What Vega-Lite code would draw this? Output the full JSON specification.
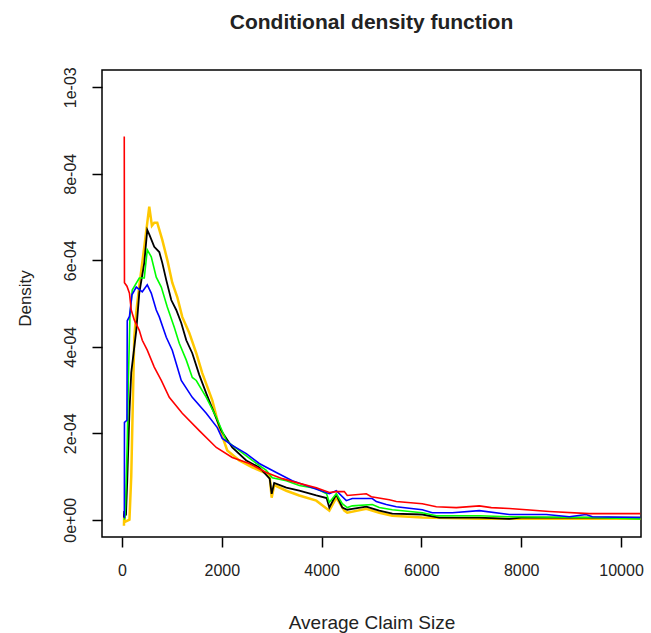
{
  "$schema": "https://vega.github.io/schema/vega-lite/v6.json",
  "width": 539,
  "height": 467,
  "autosize": {"type": "none"},
  "padding": {"left": 102, "top": 70, "right": 10, "bottom": 96},
  "title": {"text": "Conditional density function", "font": "Liberation Sans", "fontSize": 21, "fontWeight": "bold", "color": "#222", "anchor": "middle", "frame": "group", "baseline": "alphabetic", "offset": 17},
  "config": {
    "view": {"stroke": "#000", "strokeWidth": 1.5},
    "axis": {"grid": false, "domain": false, "tickColor": "#000", "tickWidth": 1.5, "tickSize": 10, "labelFont": "Liberation Sans", "labelFontSize": 16, "labelColor": "#222", "titleFont": "Liberation Sans", "titleFontSize": 17, "titleFontWeight": "normal", "titleColor": "#222", "labelFlush": false}
  },
  "data": {"values": [
    {"s":"red","x":46,"y":8.86e-4},{"s":"red","x":50,"y":5.48e-4},{"s":"red","x":100,"y":5.40e-4},{"s":"red","x":150,"y":5.24e-4},{"s":"red","x":186,"y":4.85e-4},{"s":"red","x":246,"y":4.62e-4},{"s":"red","x":347,"y":4.38e-4},{"s":"red","x":407,"y":4.15e-4},{"s":"red","x":507,"y":3.92e-4},{"s":"red","x":647,"y":3.53e-4},{"s":"red","x":788,"y":3.22e-4},{"s":"red","x":948,"y":2.83e-4},{"s":"red","x":1208,"y":2.46e-4},{"s":"red","x":1549,"y":2.06e-4},{"s":"red","x":1890,"y":1.67e-4},{"s":"red","x":2210,"y":1.44e-4},{"s":"red","x":2551,"y":1.30e-4},{"s":"red","x":2892,"y":1.09e-4},{"s":"red","x":3212,"y":9.5e-5},{"s":"red","x":3553,"y":8.4e-5},{"s":"red","x":3894,"y":7.4e-5},{"s":"red","x":4155,"y":6.3e-5},{"s":"red","x":4295,"y":6.5e-5},{"s":"red","x":4455,"y":6.5e-5},{"s":"red","x":4515,"y":5.6e-5},{"s":"red","x":4896,"y":6.0e-5},{"s":"red","x":4996,"y":5.3e-5},{"s":"red","x":5357,"y":4.6e-5},{"s":"red","x":5497,"y":4.2e-5},{"s":"red","x":6018,"y":3.7e-5},{"s":"red","x":6299,"y":3.0e-5},{"s":"red","x":6699,"y":2.8e-5},{"s":"red","x":7160,"y":3.2e-5},{"s":"red","x":7400,"y":2.8e-5},{"s":"red","x":7761,"y":2.6e-5},{"s":"red","x":8563,"y":1.9e-5},{"s":"red","x":9364,"y":1.4e-5},{"s":"red","x":10386,"y":1.4e-5},

    {"s":"blue","x":40,"y":5e-6},{"s":"blue","x":48,"y":5e-6},{"s":"blue","x":50,"y":2.25e-4},{"s":"blue","x":100,"y":2.30e-4},{"s":"blue","x":106,"y":4.60e-4},{"s":"blue","x":150,"y":4.70e-4},{"s":"blue","x":200,"y":5.20e-4},{"s":"blue","x":287,"y":5.38e-4},{"s":"blue","x":407,"y":5.27e-4},{"s":"blue","x":507,"y":5.43e-4},{"s":"blue","x":587,"y":5.24e-4},{"s":"blue","x":687,"y":4.85e-4},{"s":"blue","x":748,"y":4.69e-4},{"s":"blue","x":888,"y":4.22e-4},{"s":"blue","x":1008,"y":3.92e-4},{"s":"blue","x":1108,"y":3.53e-4},{"s":"blue","x":1188,"y":3.22e-4},{"s":"blue","x":1409,"y":2.83e-4},{"s":"blue","x":1689,"y":2.46e-4},{"s":"blue","x":1910,"y":2.13e-4},{"s":"blue","x":2010,"y":1.88e-4},{"s":"blue","x":2210,"y":1.72e-4},{"s":"blue","x":2491,"y":1.53e-4},{"s":"blue","x":2751,"y":1.30e-4},{"s":"blue","x":3092,"y":1.09e-4},{"s":"blue","x":3413,"y":9.0e-5},{"s":"blue","x":3814,"y":7.4e-5},{"s":"blue","x":4155,"y":6.0e-5},{"s":"blue","x":4295,"y":6.7e-5},{"s":"blue","x":4495,"y":4.4e-5},{"s":"blue","x":4615,"y":4.9e-5},{"s":"blue","x":5016,"y":4.9e-5},{"s":"blue","x":5096,"y":4.2e-5},{"s":"blue","x":5296,"y":3.5e-5},{"s":"blue","x":5497,"y":3.0e-5},{"s":"blue","x":6018,"y":2.3e-5},{"s":"blue","x":6218,"y":1.6e-5},{"s":"blue","x":6619,"y":1.6e-5},{"s":"blue","x":7160,"y":2.1e-5},{"s":"blue","x":7761,"y":1.2e-5},{"s":"blue","x":8503,"y":1.2e-5},{"s":"blue","x":8964,"y":7e-6},{"s":"blue","x":9300,"y":1.2e-5},{"s":"blue","x":9424,"y":7e-6},{"s":"blue","x":10386,"y":5e-6},

    {"s":"green","x":40,"y":0},{"s":"green","x":60,"y":5e-6},{"s":"green","x":70,"y":3.0e-5},{"s":"green","x":106,"y":1.80e-4},{"s":"green","x":130,"y":3.30e-4},{"s":"green","x":160,"y":4.70e-4},{"s":"green","x":206,"y":5.31e-4},{"s":"green","x":347,"y":5.59e-4},{"s":"green","x":447,"y":5.59e-4},{"s":"green","x":507,"y":6.24e-4},{"s":"green","x":587,"y":6.08e-4},{"s":"green","x":687,"y":5.61e-4},{"s":"green","x":788,"y":5.38e-4},{"s":"green","x":908,"y":4.92e-4},{"s":"green","x":1048,"y":4.45e-4},{"s":"green","x":1148,"y":4.08e-4},{"s":"green","x":1289,"y":3.69e-4},{"s":"green","x":1409,"y":3.29e-4},{"s":"green","x":1489,"y":3.22e-4},{"s":"green","x":1689,"y":2.83e-4},{"s":"green","x":1890,"y":2.37e-4},{"s":"green","x":2090,"y":1.83e-4},{"s":"green","x":2351,"y":1.60e-4},{"s":"green","x":2611,"y":1.37e-4},{"s":"green","x":2892,"y":1.14e-4},{"s":"green","x":3012,"y":9.7e-5},{"s":"green","x":3293,"y":9.0e-5},{"s":"green","x":3553,"y":7.9e-5},{"s":"green","x":3894,"y":7.2e-5},{"s":"green","x":4100,"y":6.0e-5},{"s":"green","x":4155,"y":4.0e-5},{"s":"green","x":4295,"y":6.0e-5},{"s":"green","x":4415,"y":3.7e-5},{"s":"green","x":4515,"y":2.8e-5},{"s":"green","x":4615,"y":3.2e-5},{"s":"green","x":5016,"y":3.5e-5},{"s":"green","x":5156,"y":2.8e-5},{"s":"green","x":5417,"y":2.3e-5},{"s":"green","x":6018,"y":1.6e-5},{"s":"green","x":6299,"y":9e-6},{"s":"green","x":7160,"y":9e-6},{"s":"green","x":7761,"y":7e-6},{"s":"green","x":9424,"y":5e-6},{"s":"green","x":10386,"y":2e-6},

    {"s":"black","x":40,"y":5e-6},{"s":"black","x":46,"y":2.0e-5},{"s":"black","x":80,"y":1.0e-5},{"s":"black","x":106,"y":9.0e-5},{"s":"black","x":150,"y":2.50e-4},{"s":"black","x":186,"y":3.40e-4},{"s":"black","x":287,"y":4.38e-4},{"s":"black","x":347,"y":5.24e-4},{"s":"black","x":447,"y":5.94e-4},{"s":"black","x":507,"y":6.70e-4},{"s":"black","x":547,"y":6.60e-4},{"s":"black","x":647,"y":6.31e-4},{"s":"black","x":748,"y":6.19e-4},{"s":"black","x":808,"y":5.94e-4},{"s":"black","x":888,"y":5.54e-4},{"s":"black","x":988,"y":5.08e-4},{"s":"black","x":1088,"y":4.85e-4},{"s":"black","x":1188,"y":4.55e-4},{"s":"black","x":1289,"y":4.15e-4},{"s":"black","x":1409,"y":3.85e-4},{"s":"black","x":1549,"y":3.35e-4},{"s":"black","x":1689,"y":2.92e-4},{"s":"black","x":1850,"y":2.46e-4},{"s":"black","x":1990,"y":2.06e-4},{"s":"black","x":2210,"y":1.67e-4},{"s":"black","x":2491,"y":1.37e-4},{"s":"black","x":2751,"y":1.21e-4},{"s":"black","x":2960,"y":9.5e-5},{"s":"black","x":3000,"y":6.0e-5},{"s":"black","x":3050,"y":8.5e-5},{"s":"black","x":3293,"y":7.4e-5},{"s":"black","x":3553,"y":6.7e-5},{"s":"black","x":3894,"y":5.6e-5},{"s":"black","x":4100,"y":5.0e-5},{"s":"black","x":4155,"y":2.8e-5},{"s":"black","x":4230,"y":4.5e-5},{"s":"black","x":4295,"y":5.8e-5},{"s":"black","x":4415,"y":2.8e-5},{"s":"black","x":4515,"y":2.3e-5},{"s":"black","x":4615,"y":2.5e-5},{"s":"black","x":4896,"y":3.0e-5},{"s":"black","x":5156,"y":2.1e-5},{"s":"black","x":5417,"y":1.4e-5},{"s":"black","x":6018,"y":1.2e-5},{"s":"black","x":6359,"y":5e-6},{"s":"black","x":7160,"y":5e-6},{"s":"black","x":7761,"y":2e-6},{"s":"black","x":8000,"y":5e-6},{"s":"black","x":9424,"y":5e-6},{"s":"black","x":10386,"y":5e-6},

    {"s":"gold","x":40,"y":-1.4e-5},{"s":"gold","x":46,"y":1.4e-5},{"s":"gold","x":60,"y":-5e-6},{"s":"gold","x":150,"y":0},{"s":"gold","x":186,"y":1.00e-4},{"s":"gold","x":246,"y":4.20e-4},{"s":"gold","x":287,"y":4.80e-4},{"s":"gold","x":347,"y":5.40e-4},{"s":"gold","x":447,"y":6.31e-4},{"s":"gold","x":547,"y":7.24e-4},{"s":"gold","x":600,"y":6.80e-4},{"s":"gold","x":647,"y":6.87e-4},{"s":"gold","x":707,"y":6.87e-4},{"s":"gold","x":808,"y":6.47e-4},{"s":"gold","x":908,"y":6.01e-4},{"s":"gold","x":1008,"y":5.48e-4},{"s":"gold","x":1108,"y":5.15e-4},{"s":"gold","x":1208,"y":4.69e-4},{"s":"gold","x":1349,"y":4.32e-4},{"s":"gold","x":1489,"y":3.85e-4},{"s":"gold","x":1609,"y":3.39e-4},{"s":"gold","x":1810,"y":2.76e-4},{"s":"gold","x":1950,"y":2.13e-4},{"s":"gold","x":2110,"y":1.60e-4},{"s":"gold","x":2351,"y":1.37e-4},{"s":"gold","x":2611,"y":1.21e-4},{"s":"gold","x":2892,"y":1.07e-4},{"s":"gold","x":2960,"y":1.00e-4},{"s":"gold","x":3000,"y":5.1e-5},{"s":"gold","x":3050,"y":8.0e-5},{"s":"gold","x":3293,"y":6.7e-5},{"s":"gold","x":3553,"y":5.6e-5},{"s":"gold","x":3894,"y":4.4e-5},{"s":"gold","x":4155,"y":2.1e-5},{"s":"gold","x":4295,"y":5.1e-5},{"s":"gold","x":4455,"y":2.1e-5},{"s":"gold","x":4515,"y":1.6e-5},{"s":"gold","x":4896,"y":2.5e-5},{"s":"gold","x":5156,"y":1.6e-5},{"s":"gold","x":5417,"y":9e-6},{"s":"gold","x":6018,"y":5e-6},{"s":"gold","x":7160,"y":2e-6},{"s":"gold","x":10386,"y":2e-6}
  ]},
  "encoding": {
    "x": {"field": "x", "type": "quantitative", "scale": {"domain": [-400, 10400], "nice": false, "zero": false},
      "axis": {"values": [0, 2000, 4000, 6000, 8000, 10000], "format": "d", "labelPadding": 15, "labelBaseline": "top", "title": "Average Claim Size", "titleFontSize": 19, "titleY": 91, "titleBaseline": "alphabetic"}},
    "y": {"field": "y", "type": "quantitative", "scale": {"domain": [-0.00004, 0.00104], "nice": false, "zero": false},
      "axis": {"values": [0, 0.0002, 0.0004, 0.0006, 0.0008, 0.001], "labelExpr": "datum.value == 0 ? '0e+00' : (datum.value > 0.00099 ? '1e-03' : format(datum.value * 10000, '.0f') + 'e-04')", "labelAngle": -90, "labelAlign": "center", "labelBaseline": "alphabetic", "labelPadding": 17, "title": "Density", "titleX": -72, "titleY": 228, "titleAngle": -90, "titleAlign": "center", "titleBaseline": "alphabetic"}}
  },
  "layer": [
    {"transform": [{"filter": "datum.s == 'gold'"}], "mark": {"type": "line", "color": "#FFC800", "strokeWidth": 2.5, "clip": true}},
    {"transform": [{"filter": "datum.s == 'black'"}], "mark": {"type": "line", "color": "#000000", "strokeWidth": 1.8, "clip": true}},
    {"transform": [{"filter": "datum.s == 'green'"}], "mark": {"type": "line", "color": "#00FF00", "strokeWidth": 1.6, "clip": true}},
    {"transform": [{"filter": "datum.s == 'blue'"}], "mark": {"type": "line", "color": "#0000FF", "strokeWidth": 1.6, "clip": true}},
    {"transform": [{"filter": "datum.s == 'red'"}], "mark": {"type": "line", "color": "#FF0000", "strokeWidth": 1.6, "clip": true}}
  ]
}
